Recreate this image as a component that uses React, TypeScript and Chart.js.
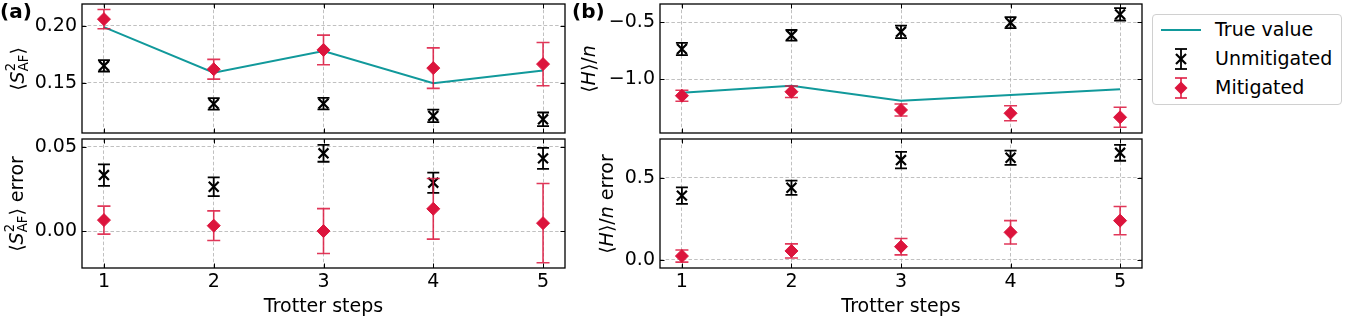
import React, { useEffect, useRef } from 'react';
import { Chart, registerables } from 'chart.js';

Chart.register(...registerables);

const FONT = "'DejaVu Sans', sans-serif";
const TEAL = '#11999b';
const CRIMSON = '#dc143c';
const CRIMSON_BAR = 'rgba(220,20,60,0.85)';

const STEPS = [1, 2, 3, 4, 5];
const X_TICKS = [1, 2, 3, 4, 5];
const X_MIN = 0.8;
const X_MAX = 5.2;

// (a) top: <S^2_AF>
const S_TRUE = [0.199, 0.159, 0.178, 0.1497, 0.1608];
const S_UNMIT = [0.165, 0.1316, 0.1318, 0.121, 0.118];
const S_UNMIT_ERR = [0.005, 0.005, 0.005, 0.0055, 0.006];
const S_MIT = [0.206, 0.162, 0.179, 0.163, 0.1665];
const S_MIT_ERR = [0.0085, 0.0087, 0.013, 0.0178, 0.019];
const S_RANGE = [0.106, 0.2193];
const S_TICKS = [0.15, 0.2];

// (a) bottom: <S^2_AF> error
const SE_UNMIT = [0.0332, 0.0263, 0.0461, 0.0287, 0.0431];
const SE_UNMIT_ERR = [0.0064, 0.0056, 0.005, 0.006, 0.0062];
const SE_MIT = [0.0065, 0.0032, 0.0, 0.0132, 0.0047];
const SE_MIT_ERR = [0.0083, 0.0088, 0.0133, 0.018, 0.0235];
const SE_RANGE = [-0.0219, 0.0546];
const SE_TICKS = [0.0, 0.05];

// (b) top: <H>/n
const H_TRUE = [-1.1175, -1.056, -1.188, -1.138, -1.088];
const H_UNMIT = [-0.734, -0.614, -0.583, -0.503, -0.43];
const H_UNMIT_ERR = [0.054, 0.047, 0.055, 0.048, 0.054];
const H_MIT = [-1.144, -1.109, -1.269, -1.298, -1.333];
const H_MIT_ERR = [0.048, 0.05, 0.053, 0.066, 0.088];
const H_RANGE = [-1.471, -0.339];
const H_TICKS = [-1.0, -0.5];

// (b) bottom: <H>/n error
const HE_UNMIT = [0.391, 0.439, 0.607, 0.621, 0.651];
const HE_UNMIT_ERR = [0.05, 0.043, 0.05, 0.043, 0.048];
const HE_MIT = [0.024, 0.055, 0.081, 0.168, 0.239];
const HE_MIT_ERR = [0.037, 0.043, 0.05, 0.071, 0.086];
const HE_RANGE = [-0.0486, 0.735];
const HE_TICKS = [0.0, 0.5];

const X_TITLE = 'Trotter steps';
const LEGEND_LABELS = ['True value', 'Unmitigated', 'Mitigated'];

const errorBarPlugin = {
  id: 'errbars',
  beforeDatasetDraw(chart: any, args: any) {
    const ds = chart.data.datasets[args.index];
    if (!ds.errors) return;
    const { ctx, chartArea: a } = chart;
    const xs = chart.scales.x;
    const ys = chart.scales.y;
    ctx.save();
    ctx.beginPath();
    ctx.rect(a.left, a.top, a.right - a.left, a.bottom - a.top);
    ctx.clip();
    ctx.strokeStyle = ds.errorColor;
    ctx.lineWidth = ds.errorWidth;
    const cap = ds.capHalf;
    ds.data.forEach((p: any, i: number) => {
      const e = ds.errors[i];
      const px = xs.getPixelForValue(p.x);
      const y0 = ys.getPixelForValue(p.y - e);
      const y1 = ys.getPixelForValue(p.y + e);
      ctx.beginPath();
      ctx.moveTo(px, y0);
      ctx.lineTo(px, y1);
      ctx.moveTo(px - cap, y0);
      ctx.lineTo(px + cap, y0);
      ctx.moveTo(px - cap, y1);
      ctx.lineTo(px + cap, y1);
      ctx.stroke();
    });
    ctx.restore();
  },
};

const framePlugin = {
  id: 'frame',
  afterDraw(chart: any) {
    const { ctx, chartArea: a } = chart;
    const xs = chart.scales.x;
    const ys = chart.scales.y;
    const TL = 4.5;
    ctx.save();
    ctx.strokeStyle = '#000';
    ctx.lineWidth = 1;
    ctx.beginPath();
    xs.ticks.forEach((t: any) => {
      const px = Math.round(xs.getPixelForValue(t.value)) + 0.5;
      ctx.moveTo(px, a.bottom);
      ctx.lineTo(px, a.bottom - TL);
      ctx.moveTo(px, a.top);
      ctx.lineTo(px, a.top + TL);
    });
    ys.ticks.forEach((t: any) => {
      const py = Math.round(ys.getPixelForValue(t.value)) + 0.5;
      ctx.moveTo(a.left, py);
      ctx.lineTo(a.left + TL, py);
      ctx.moveTo(a.right, py);
      ctx.lineTo(a.right - TL, py);
    });
    ctx.stroke();
    ctx.lineWidth = 1.3;
    ctx.strokeRect(a.left, a.top, a.right - a.left, a.bottom - a.top);
    ctx.restore();
  },
};

type PanelProps = {
  box: number[];
  yRange: number[];
  yTicks: number[];
  yDigits: number;
  showX: boolean;
  trueVals?: number[];
  unmit: number[];
  unmitErr: number[];
  mit: number[];
  mitErr: number[];
};

const fmt = (v: number, d: number) => (v < -1e-9 ? '\u2212' : '') + Math.abs(v).toFixed(d);

function Panel(props: PanelProps) {
  const ref = useRef<HTMLCanvasElement>(null);
  const { box, showX } = props;
  const YW = 80;
  const PT = 4;
  const PR = 6;
  const XH = showX ? 62 : 0;
  const PB = showX ? 0 : 4;
  const cw = YW + (box[2] - box[0]) + PR;
  const chh = PT + (box[3] - box[1]) + XH + PB;

  useEffect(() => {
    const datasets: any[] = [];
    if (props.trueVals) {
      datasets.push({
        label: LEGEND_LABELS[0],
        data: STEPS.map((x, i) => ({ x, y: props.trueVals![i] })),
        borderColor: TEAL,
        borderWidth: 2,
        pointRadius: 0,
        showLine: true,
        tension: 0,
        order: 3,
      });
    }
    datasets.push({
      label: LEGEND_LABELS[1],
      data: STEPS.map((x, i) => ({ x, y: props.unmit[i] })),
      errors: props.unmitErr,
      errorColor: '#000',
      errorWidth: 1.8,
      capHalf: 6,
      showLine: false,
      pointStyle: 'crossRot',
      pointRadius: 7,
      pointBorderWidth: 2.2,
      borderColor: '#000',
      backgroundColor: '#000',
      order: 2,
    });
    datasets.push({
      label: LEGEND_LABELS[2],
      data: STEPS.map((x, i) => ({ x, y: props.mit[i] })),
      errors: props.mitErr,
      errorColor: CRIMSON_BAR,
      errorWidth: 1.6,
      capHalf: 6.5,
      showLine: false,
      pointStyle: 'rectRot',
      pointRadius: 6.5,
      pointBorderWidth: 1,
      borderColor: CRIMSON,
      backgroundColor: CRIMSON,
      order: 1,
    });

    const chart = new Chart(ref.current!, {
      type: 'line',
      data: { datasets },
      plugins: [errorBarPlugin, framePlugin],
      options: {
        responsive: false,
        animation: false,
        events: [],
        layout: { padding: { top: PT, right: PR, bottom: PB, left: 0 }, autoPadding: false } as any,
        plugins: { legend: { display: false }, tooltip: { enabled: false } },
        scales: {
          x: {
            type: 'linear',
            min: X_MIN,
            max: X_MAX,
            afterBuildTicks: (axis: any) => {
              axis.ticks = X_TICKS.map((v) => ({ value: v }));
            },
            afterFit: (axis: any) => {
              axis.height = XH;
              axis.paddingLeft = 0;
              axis.paddingRight = 0;
            },
            grid: { color: '#b0b0b0', lineWidth: 0.8, drawTicks: false },
            border: { display: false, dash: [3.5, 2.2] },
            ticks: {
              display: showX,
              padding: 3,
              color: '#000',
              font: { family: FONT, size: 19 },
              maxRotation: 0,
              callback: (v: any) => String(v),
            },
            title: {
              display: showX,
              text: X_TITLE,
              color: '#000',
              font: { family: FONT, size: 19 },
              padding: { top: 0, bottom: 11.6 },
            },
          },
          y: {
            type: 'linear',
            min: props.yRange[0],
            max: props.yRange[1],
            afterBuildTicks: (axis: any) => {
              axis.ticks = props.yTicks.map((v) => ({ value: v }));
            },
            afterFit: (axis: any) => {
              axis.width = YW;
              axis.paddingTop = 0;
              axis.paddingBottom = 0;
            },
            grid: { color: '#b0b0b0', lineWidth: 0.8, drawTicks: false },
            border: { display: false, dash: [3.5, 2.2] },
            ticks: {
              padding: 5,
              color: '#000',
              font: { family: FONT, size: 19 },
              callback: (v: any) => fmt(Number(v), props.yDigits),
            },
          },
        },
      } as any,
    });
    return () => chart.destroy();
  }, []);

  return (
    <canvas
      ref={ref}
      width={cw}
      height={chh}
      style={{ position: 'absolute', left: box[0] - YW, top: box[1] - PT, width: cw, height: chh }}
    />
  );
}

function YLabel({ cx, cy, children }: { cx: number; cy: number; children: any }) {
  return (
    <div
      style={{
        position: 'absolute',
        left: cx,
        top: cy,
        transform: 'translate(-50%, -50%) rotate(-90deg)',
        whiteSpace: 'nowrap',
        fontSize: 19,
        lineHeight: '22px',
        fontFamily: FONT,
        color: '#000',
      }}
    >
      {children}
    </div>
  );
}

const SAF = (
  <span>
    ⟨<i>S</i>
    <span
      style={{
        display: 'inline-block',
        verticalAlign: '-0.3em',
        fontSize: '0.7em',
        lineHeight: '0.95em',
        textAlign: 'left',
      }}
    >
      <span style={{ display: 'block' }}>2</span>
      <span style={{ display: 'block' }}>AF</span>
    </span>
    ⟩
  </span>
);

const HN = (
  <span>
    ⟨<i>H</i>⟩/<i>n</i>
  </span>
);

function LegendSymbol({ kind }: { kind: number }) {
  if (kind === 0) {
    return (
      <svg width={42} height={30} style={{ position: 'absolute', left: 6, top: 0 }}>
        <line x1={2} y1={15} x2={42} y2={15} stroke={TEAL} strokeWidth={2} />
      </svg>
    );
  }
  const col = kind === 1 ? '#000' : CRIMSON_BAR;
  return (
    <svg width={42} height={30} style={{ position: 'absolute', left: 6, top: 0 }}>
      <line x1={22} y1={5} x2={22} y2={25} stroke={col} strokeWidth={1.8} />
      <line x1={16} y1={5} x2={28} y2={5} stroke={col} strokeWidth={1.8} />
      <line x1={16} y1={25} x2={28} y2={25} stroke={col} strokeWidth={1.8} />
      {kind === 1 ? (
        <g stroke="#000" strokeWidth={2.2}>
          <line x1={17} y1={10} x2={27} y2={20} />
          <line x1={27} y1={10} x2={17} y2={20} />
        </g>
      ) : (
        <polygon points="22,8.5 28.5,15 22,21.5 15.5,15" fill={CRIMSON} />
      )}
    </svg>
  );
}

export default function App() {
  const A_L = 82, A_R = 565, B_L = 660, B_R = 1142;
  const T_T = 4, T_B = 133, L_T = 139, L_B = 268;
  return (
    <div
      style={{
        position: 'fixed',
        left: 0,
        top: 0,
        width: 1357,
        height: 333,
        background: '#fff',
        fontFamily: FONT,
        color: '#000',
        overflow: 'hidden',
      }}
    >
      <Panel box={[A_L, T_T, A_R, T_B]} yRange={S_RANGE} yTicks={S_TICKS} yDigits={2} showX={false}
        trueVals={S_TRUE} unmit={S_UNMIT} unmitErr={S_UNMIT_ERR} mit={S_MIT} mitErr={S_MIT_ERR} />
      <Panel box={[A_L, L_T, A_R, L_B]} yRange={SE_RANGE} yTicks={SE_TICKS} yDigits={2} showX={true}
        unmit={SE_UNMIT} unmitErr={SE_UNMIT_ERR} mit={SE_MIT} mitErr={SE_MIT_ERR} />
      <Panel box={[B_L, T_T, B_R, T_B]} yRange={H_RANGE} yTicks={H_TICKS} yDigits={1} showX={false}
        trueVals={H_TRUE} unmit={H_UNMIT} unmitErr={H_UNMIT_ERR} mit={H_MIT} mitErr={H_MIT_ERR} />
      <Panel box={[B_L, L_T, B_R, L_B]} yRange={HE_RANGE} yTicks={HE_TICKS} yDigits={1} showX={true}
        unmit={HE_UNMIT} unmitErr={HE_UNMIT_ERR} mit={HE_MIT} mitErr={HE_MIT_ERR} />

      <YLabel cx={18} cy={69}>{SAF}</YLabel>
      <YLabel cx={17} cy={204}>
        <span>{SAF} error</span>
      </YLabel>
      <YLabel cx={588} cy={69}>{HN}</YLabel>
      <YLabel cx={606} cy={204}>
        <span>{HN} error</span>
      </YLabel>

      <div style={{ position: 'absolute', left: 0, top: 0, fontSize: 20, fontWeight: 'bold', lineHeight: '22px' }}>(a)</div>
      <div style={{ position: 'absolute', left: 572, top: 0, fontSize: 20, fontWeight: 'bold', lineHeight: '22px' }}>(b)</div>

      <div
        style={{
          position: 'absolute',
          left: 1152,
          top: 14,
          width: 190,
          height: 91,
          border: '1px solid #d0d0d0',
          borderRadius: 4,
          background: '#fff',
          boxSizing: 'border-box',
        }}
      >
        {LEGEND_LABELS.map((lab, k) => (
          <div key={lab} style={{ position: 'absolute', left: 0, top: 0 + k * 29, width: 188, height: 30 }}>
            <LegendSymbol kind={k} />
            <div style={{ position: 'absolute', left: 62, top: 3, fontSize: 19, lineHeight: '22px', whiteSpace: 'nowrap' }}>
              {lab}
            </div>
          </div>
        ))}
      </div>
    </div>
  );
}
